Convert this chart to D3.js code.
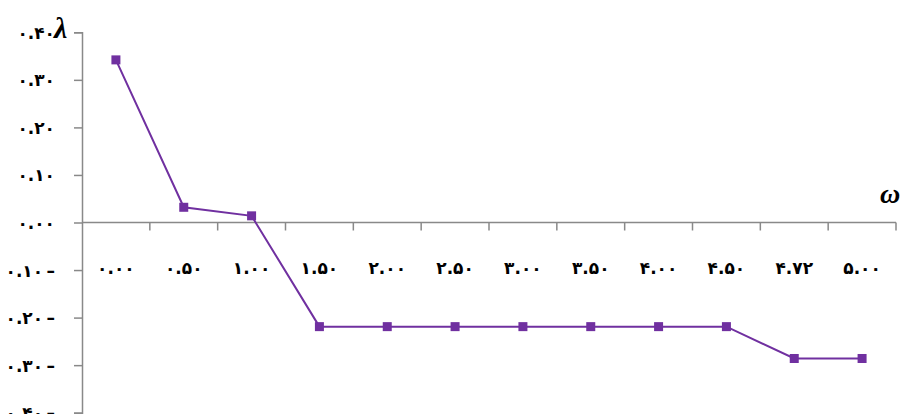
<!DOCTYPE html>
<html>
<head>
<meta charset="utf-8">
<script src="https://cdn.jsdelivr.net/npm/d3@7"></script>
<style>
body{margin:0;background:#fff;}
svg{display:block;}
.lbl{font-family:"DejaVu Sans",sans-serif;font-size:17px;font-weight:bold;fill:#000;}
</style>
</head>
<body>
<div id="chart"></div>
<script>
// categories (omega) and lambda values
var categories = ["۰.۰۰","۰.۵۰","۱.۰۰","۱.۵۰","۲.۰۰","۲.۵۰","۳.۰۰","۳.۵۰","۴.۰۰","۴.۵۰","۴.۷۲","۵.۰۰"];
var lambdaValues = [0.342, 0.032, 0.014, -0.219, -0.219, -0.219, -0.219, -0.219, -0.219, -0.219, -0.286, -0.286];
var yTickValues = [0.4, 0.3, 0.2, 0.1, 0, -0.1, -0.2, -0.3, -0.4];
var yTickLabels = ["۰.۴۰","۰.۳۰","۰.۲۰","۰.۱۰","۰.۰۰","۰.۱۰\u2009–","۰.۲۰\u2009–","۰.۳۰\u2009–","۰.۴۰\u2009–"];

var W = 905, H = 414;
var mLeft = 82, mRight = 896, mTop = 32.3, mBottom = 412.7;
var axisCol = "#898989", lineCol = "#7030a0";

var svg = d3.select("#chart").append("svg").attr("width", W).attr("height", H);

var x = d3.scaleBand().domain(categories).range([mLeft, mRight]);
var y = d3.scaleLinear().domain([-0.4, 0.4]).range([mBottom, mTop]);

// y axis
var yAxis = d3.axisLeft(y)
    .tickValues(yTickValues)
    .tickSize(8)
    .tickPadding(19)
    .tickFormat(function(d, i){ return yTickLabels[i]; });
var gy = svg.append("g").attr("transform", "translate(" + mLeft + ",0)").call(yAxis);
gy.select(".domain").attr("stroke", axisCol).attr("stroke-width", 1.5);
gy.selectAll(".tick line").attr("stroke", axisCol).attr("stroke-width", 1.5);
gy.selectAll(".tick text").attr("class", "lbl").attr("dy", "0.35em");

// x axis: line at zero, ticks between categories
var y0 = y(0);
var gx = svg.append("g");
gx.append("line")
    .attr("x1", mLeft).attr("x2", mRight)
    .attr("y1", y0).attr("y2", y0)
    .attr("stroke", axisCol).attr("stroke-width", 1.5);
var bounds = categories.map(function(c){ return x(c) + x.bandwidth(); });
gx.selectAll(".xt").data(bounds).enter().append("line")
    .attr("x1", function(d){ return d; }).attr("x2", function(d){ return d; })
    .attr("y1", y0).attr("y2", y0 + 8)
    .attr("stroke", axisCol).attr("stroke-width", 1.5);
gx.selectAll(".xl").data(categories).enter().append("text")
    .attr("class", "lbl")
    .attr("x", function(d){ return x(d) + x.bandwidth() / 2; })
    .attr("y", y0 + 51)
    .attr("text-anchor", "middle")
    .text(function(d){ return d; });

// series
var pts = categories.map(function(c, i){ return {c: c, v: lambdaValues[i]}; });
var line = d3.line()
    .x(function(d){ return x(d.c) + x.bandwidth() / 2; })
    .y(function(d){ return y(d.v); });
svg.append("path").datum(pts)
    .attr("d", line)
    .attr("fill", "none")
    .attr("stroke", lineCol)
    .attr("stroke-width", 2);
svg.selectAll(".m").data(pts).enter().append("rect")
    .attr("x", function(d){ return x(d.c) + x.bandwidth() / 2 - 4.5; })
    .attr("y", function(d){ return y(d.v) - 4.5; })
    .attr("width", 9).attr("height", 9)
    .attr("fill", lineCol);

// axis titles
svg.append("text")
    .attr("x", 54).attr("y", 38)
    .attr("font-family", "Liberation Serif, serif")
    .attr("font-size", 30).attr("font-weight", "bold").attr("font-style", "italic")
    .text("λ");
svg.append("text")
    .attr("x", 880).attr("y", 203)
    .attr("font-family", "Liberation Serif, serif")
    .attr("font-size", 28).attr("font-weight", "bold").attr("font-style", "italic")
    .text("ω");
</script>
</body>
</html>
